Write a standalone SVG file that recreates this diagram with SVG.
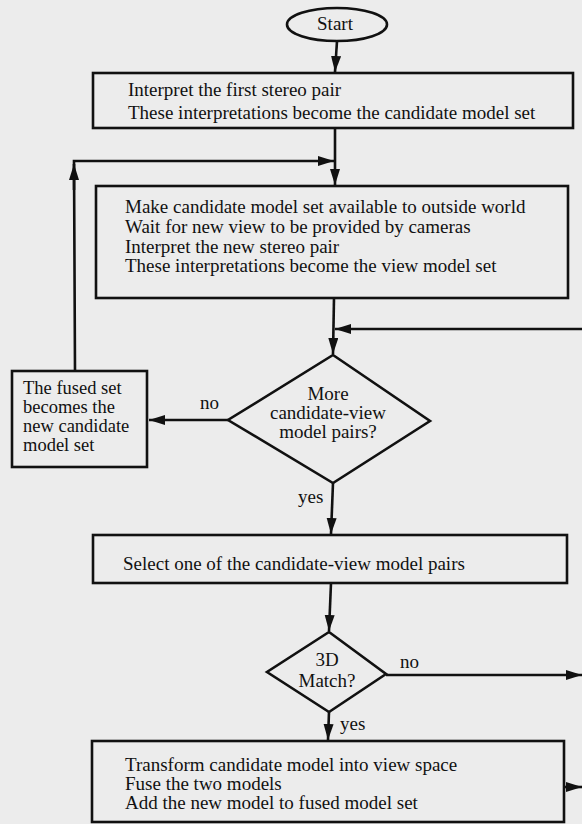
<svg xmlns="http://www.w3.org/2000/svg" width="582" height="824" viewBox="0 0 582 824">
<style>
text{font-family:"Liberation Serif","Times New Roman",serif;font-size:19px;fill:#111}
.c{text-anchor:middle}
.sm{font-size:18.5px}
.shape{fill:none;stroke:#111;stroke-width:2.6}
.conn{fill:none;stroke:#111;stroke-width:2.6}
</style>
<defs>
<marker id="ah" markerUnits="userSpaceOnUse" markerWidth="17" markerHeight="11" refX="16" refY="5" orient="auto">
<path d="M0,0 L16,5 L0,10 z" fill="#111"/>
</marker>
</defs>
<rect width="582" height="824" fill="#ececec"/>
<g id="connectors">
<path class="conn" d="M337,41 L335,72" marker-end="url(#ah)"/>
<path class="conn" d="M335,128 L335,185" marker-end="url(#ah)"/>
<path class="conn" d="M75,371 L74,161 L334,161" marker-end="url(#ah)"/>
<path class="conn" d="M74,190 L74,164" marker-end="url(#ah)"/>
<path class="conn" d="M334,298 L333,354" marker-end="url(#ah)"/>
<path class="conn" d="M582,329 L335,329" marker-end="url(#ah)"/>
<path class="conn" d="M228,420 L149,420" marker-end="url(#ah)"/>
<path class="conn" d="M333,483 L331,534" marker-end="url(#ah)"/>
<path class="conn" d="M331,583 L329,631" marker-end="url(#ah)"/>
<path class="conn" d="M386,675 L582,675" marker-end="url(#ah)"/>
<path class="conn" d="M329,712 L328,740" marker-end="url(#ah)"/>
<path class="conn" d="M564,787 L582,787" marker-end="url(#ah)"/>
</g>
<g id="start">
<ellipse class="shape" cx="337" cy="24.5" rx="50" ry="16.5"/>
<text class="c" x="335" y="30">Start</text>
</g>
<g id="box1">
<rect class="shape" x="93" y="73" width="480" height="55"/>
<text x="128" y="96">Interpret the first stereo pair</text>
<text x="128" y="119">These interpretations become the candidate model set</text>
</g>
<g id="box2">
<rect class="shape" x="96" y="186" width="472" height="112"/>
<text x="125" y="213">Make candidate model set available to outside world</text>
<text x="125" y="233">Wait for new view to be provided by cameras</text>
<text x="125" y="253">Interpret the new stereo pair</text>
<text x="125" y="272">These interpretations become the view model set</text>
</g>
<g id="decision1">
<path class="shape" d="M333,355 L430,421 L333,483 L228,420 z"/>
<text class="c" x="328" y="400">More</text>
<text class="c" x="328" y="419">candidate-view</text>
<text class="c" x="328" y="438">model pairs?</text>
</g>
<g id="label-no1"><text x="200" y="409">no</text></g>
<g id="label-yes1"><text x="298" y="503">yes</text></g>
<g id="fused">
<rect class="shape" x="12" y="371" width="135" height="96"/>
<text class="sm" x="23" y="394">The fused set</text>
<text class="sm" x="23" y="413">becomes the</text>
<text class="sm" x="23" y="432">new candidate</text>
<text class="sm" x="23" y="451">model set</text>
</g>
<g id="box3">
<rect class="shape" x="93" y="535" width="474" height="48"/>
<text x="123" y="570">Select one of the candidate-view model pairs</text>
</g>
<g id="decision2">
<path class="shape" d="M329,632 L386,674 L329,712 L267,672 z"/>
<text class="c" x="327" y="666">3D</text>
<text class="c" x="327" y="687">Match?</text>
</g>
<g id="label-no2"><text x="400" y="668">no</text></g>
<g id="label-yes2"><text x="340" y="730">yes</text></g>
<g id="box4">
<rect class="shape" x="92" y="741" width="472" height="81"/>
<text x="125" y="771">Transform candidate model into view space</text>
<text x="125" y="790">Fuse the two models</text>
<text x="125" y="809">Add the new model to fused model set</text>
</g>
</svg>
